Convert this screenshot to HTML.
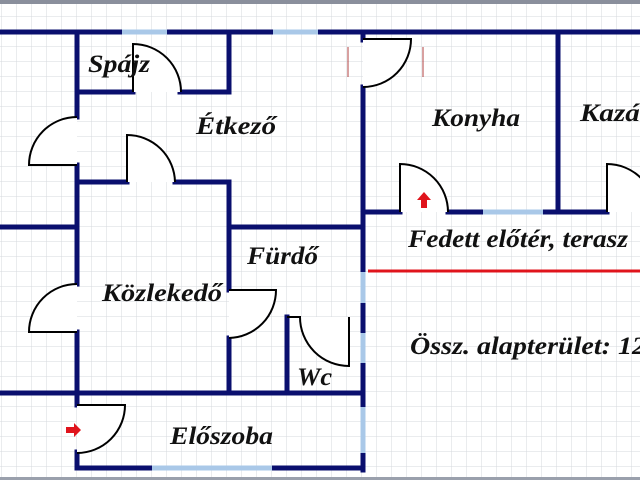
<!DOCTYPE html>
<html><head><meta charset="utf-8"><style>
html,body{margin:0;padding:0;background:#fff;}
svg{display:block;}
text{font-family:"Liberation Serif",serif;font-style:italic;font-weight:bold;fill:#111;}
</style></head><body>
<svg width="640" height="480" viewBox="0 0 640 480" xmlns="http://www.w3.org/2000/svg">
<defs>
<pattern id="g" width="15" height="15" patternUnits="userSpaceOnUse" x="2" y="2">
<path d="M15 0V15M0 15H15" stroke="#d6d8de" stroke-width="1" fill="none"/>
</pattern>
</defs>
<rect width="640" height="480" fill="#fff"/>
<rect width="640" height="480" fill="url(#g)"/>
<rect width="640" height="4" fill="#8a8f9c"/>
<rect y="477" width="640" height="3" fill="#9aa0ac"/>
<g stroke="#0a0f6e" stroke-width="5" fill="none" stroke-linecap="square">
<path d="M0 32H640"/>
<path d="M77 32V117M77 165V284M77 332V405M77 452V468"/>
<path d="M77 92H133M180 92H229M229 32V92"/>
<path d="M77 182H127M175 182H229"/>
<path d="M229 182V290M229 338V393"/>
<path d="M0 227H77M229 227H363"/>
<path d="M363 32V40M363 87V270"/>
<path d="M558 32V212"/>
<path d="M363 212H400M448 212H483M543 212H607"/>
<path d="M0 393H363"/>
<path d="M287 317V393"/>
<path d="M77 468H152M272 468H363"/>
<path d="M363 303V333M363 363V407M363 453V470"/>
</g>
<g stroke="#a9c8e8" stroke-width="5" fill="none">
<path d="M122 32H167M273 32H318"/>
<path d="M483 212H543"/>
<path d="M152 468H272"/>
<path d="M363 272V303M363 333V363M363 407V453"/>
</g>
<g stroke="#000" stroke-width="2" fill="#fff">
<path d="M133 92V44A48 48 0 0 1 181 92"/>
<path d="M77 117A48 48 0 0 0 29 165H77"/>
<path d="M127 182V135A48 48 0 0 1 175 182"/>
<path d="M229 290H276A48 48 0 0 1 229 338"/>
<path d="M77 284A48 48 0 0 0 29 332H77"/>
<path d="M363 39H411A48 48 0 0 1 363 87"/>
<path d="M400 212V164A48 48 0 0 1 448 212"/>
<path d="M607 212V164A48 48 0 0 1 655 212"/>
<path d="M287 317H300A49 49 0 0 0 349 366V317"/>
<path d="M77 405H125A48 48 0 0 1 77 453"/>
</g>
<path d="M348 47V77M423 47V77" stroke="#b04040" stroke-width="1"/>
<path d="M368 271H640" stroke="#e0141c" stroke-width="3"/>
<path d="M66 427H74V423L81 430L74 437V433H66Z" fill="#e0141c"/>
<path d="M421 208V200H417L424 192L431 200H427V208Z" fill="#e0141c"/>
<text x="88" y="72" font-size="25" textLength="62" lengthAdjust="spacingAndGlyphs">Spájz</text>
<text x="196" y="134" font-size="25" textLength="80" lengthAdjust="spacingAndGlyphs">Étkező</text>
<text x="432" y="126" font-size="25" textLength="88" lengthAdjust="spacingAndGlyphs">Konyha</text>
<text x="580" y="121" font-size="25" textLength="76" lengthAdjust="spacingAndGlyphs">Kazán</text>
<text x="408" y="247" font-size="25" textLength="220" lengthAdjust="spacingAndGlyphs">Fedett előtér, terasz</text>
<text x="247" y="264" font-size="25" textLength="71" lengthAdjust="spacingAndGlyphs">Fürdő</text>
<text x="102" y="301" font-size="25" textLength="120" lengthAdjust="spacingAndGlyphs">Közlekedő</text>
<text x="297" y="385" font-size="25" textLength="35" lengthAdjust="spacingAndGlyphs">Wc</text>
<text x="170" y="444" font-size="25" textLength="103" lengthAdjust="spacingAndGlyphs">Előszoba</text>
<text x="410" y="354" font-size="25" textLength="236" lengthAdjust="spacingAndGlyphs">Össz. alapterület: 12</text>
</svg>
</body></html>
